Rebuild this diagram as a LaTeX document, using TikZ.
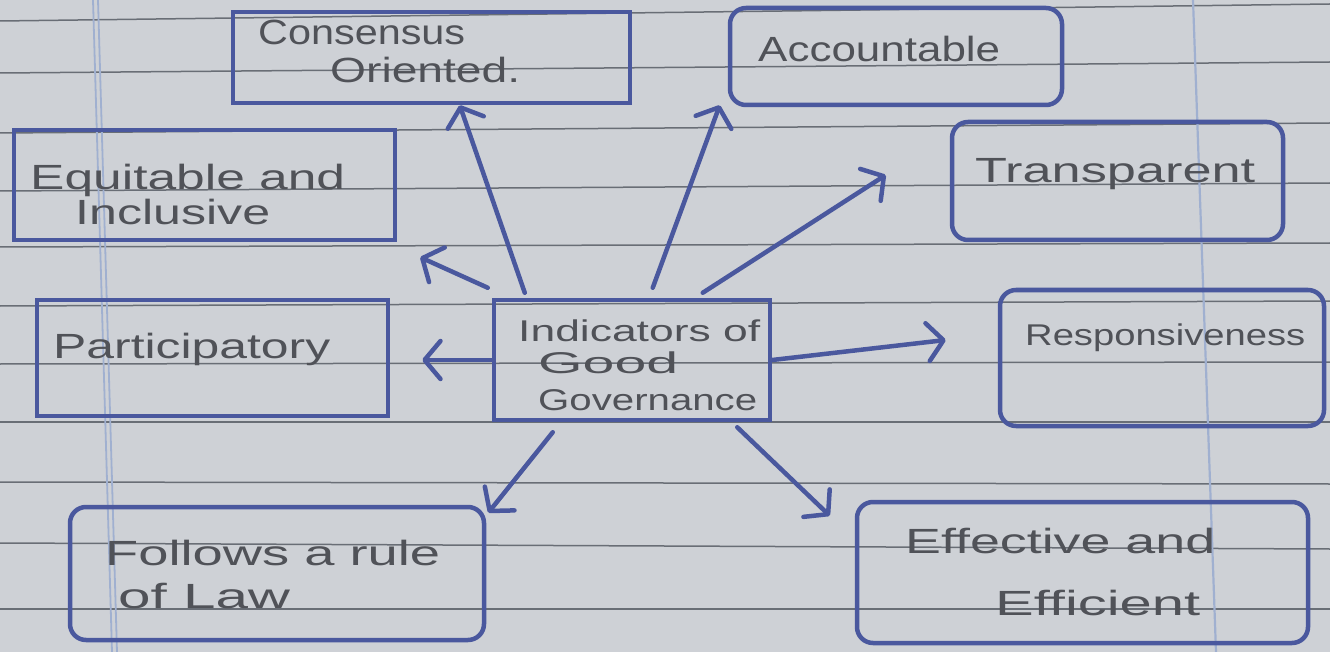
\documentclass[tikz,border=0pt]{standalone}
\usepackage{fontspec}
\setmainfont{Liberation Sans}
\usepackage{graphicx}
\usetikzlibrary{arrows.meta,calc}
\definecolor{paper}{RGB}{206,209,214}
\definecolor{ink}{RGB}{74,88,158}
\definecolor{pencil}{RGB}{80,82,88}
\definecolor{ruleline}{RGB}{105,110,118}
\definecolor{marginline}{RGB}{160,176,208}
\newcommand{\hw}[2]{\resizebox{#1pt}{\height}{#2}}
\begin{document}
\begin{tikzpicture}[x=1pt,y=-1pt,
  box/.style={draw=ink, line width=4.5pt, inner sep=0pt},
  rbox/.style={box, rounded corners=16pt},
  txt/.style={text=pencil, font=\fontsize{35}{40}\selectfont, inner sep=0pt, anchor=base west},
  smalltxt/.style={txt, font=\fontsize{30}{34}\selectfont},
  arr/.style={draw=ink, line width=4.5pt, line cap=round,
    -{Straight Barb[length=16pt,width=38pt,line cap=round,line join=round]}},
]
% paper
\fill[paper] (0,0) rectangle (1330,652);
\useasboundingbox (0,0) rectangle (1330,652);
\foreach \yl/\yr in {21/4, 73/62, 133/123, 191/183, 247/243, 306/301, 364/362, 422/422, 482/484, 543/549, 609/609}
  \draw[ruleline, line width=1.5pt] (0,\yl) -- (1330,\yr);
\draw[marginline, line width=1.8pt] (93,0) -- (112,652);
\draw[marginline, line width=1.8pt] (98,0) -- (117,652);
\draw[marginline, line width=2.2pt] (1193,0) -- (1216,652);

% boxes
\node[box,  minimum width=397pt, minimum height=91pt]  (cons) at (431.5,57.5) {};
\node[rbox, minimum width=332pt, minimum height=97pt]  (acc)  at (896,56.5) {};
\node[box,  minimum width=381pt, minimum height=110pt] (equ)  at (204.5,185) {};
\node[rbox, minimum width=331pt, minimum height=118pt] (tra)  at (1117.5,181) {};
\node[box,  minimum width=351pt, minimum height=116pt] (par)  at (212.5,358) {};
\node[box,  minimum width=276pt, minimum height=120pt] (cen)  at (632,360) {};
\node[rbox, minimum width=324pt, minimum height=136pt] (res)  at (1162,358) {};
\node[rbox, minimum width=414pt, minimum height=133pt] (fol)  at (277,573.5) {};
\node[rbox, minimum width=451pt, minimum height=141pt] (eff)  at (1082.5,572.5) {};

% texts
\node[txt] (t1a) at (258,45)  {\hw{207}{Consensus}};
\node[txt] (t1b) at (330,83)  {\hw{190}{Oriented.}};
\node[txt] (t2)  at (758,62)  {\hw{242}{Accountable}};
\node[txt] (t3a) at (30,190)  {\hw{315}{Equitable and}};
\node[txt] (t3b) at (75,225)  {\hw{195}{Inclusive}};
\node[txt] (t4)  at (975,183) {\hw{280}{Transparent}};
\node[txt] (t5)  at (53,358)  {\hw{277}{Participatory}};
\node[smalltxt] (t6a) at (518,341) {\hw{242}{Indicators of}};
\node[smalltxt] (t6b) at (538,373) {\hw{140}{Good}};
\node[smalltxt] (t6c) at (538,410) {\hw{219}{Governance}};
\node[smalltxt] (t7)  at (1025,345) {\hw{280}{Responsiveness}};
\node[txt] (t8a) at (105,565) {\hw{335}{Follows a rule}};
\node[txt] (t8b) at (118,608) {\hw{172}{of Law}};
\node[txt] (t9a) at (905,553) {\hw{310}{Effective and}};
\node[txt] (t9b) at (995,615) {\hw{205}{Efficient}};

% arrows
\draw[arr] ($(cen.north west)+(33,-5)$)  -- ($(cons.south west)+(229,0)$);
\draw[arr] ($(cen.north west)+(161,-10)$) -- ($(acc.south west)+(-8,-2)$);
\draw[arr] ($(cen.north west)+(211,-5)$) -- ($(tra.west)+(-64,-6)$);
\draw[arr] ($(cen.north west)+(-4,-10)$) -- ($(equ.south east)+(23,15)$);
\draw[arr] (cen.west) -- ($(par.east)+(32,2)$);
\draw[arr] (cen.east) -- ($(res.west)+(-52,-18)$);
\draw[arr] ($(cen.south west)+(61,10)$) -- ($(fol.north east)+(2,8)$);
\draw[arr] ($(cen.south east)+(-35,5)$) -- ($(eff.north west)+(-25,16)$);
\end{tikzpicture}
\end{document}
